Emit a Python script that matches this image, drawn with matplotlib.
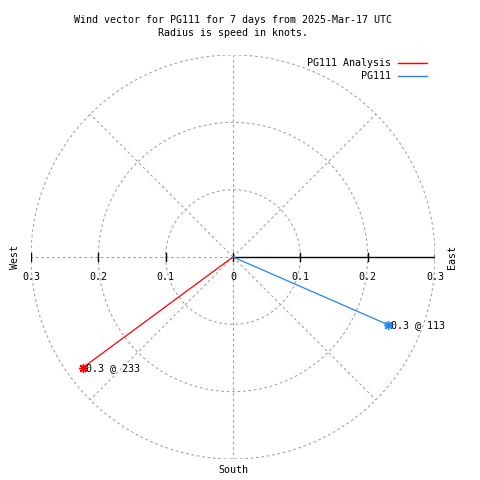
import matplotlib
matplotlib.use('Agg')
import matplotlib.pyplot as plt
from matplotlib.lines import Line2D
import numpy as np

# wind vectors: speed (knots) and direction (deg, clockwise from north)
series = ['PG111 Analysis', 'PG111']
speeds = [0.277, 0.251]
directions = [233.6, 113.6]
colors = ['#ff0000', '#1e88f0']
rings = [0.1, 0.2, 0.3]
tick_vals = [-0.3, -0.2, -0.1, 0.0, 0.1, 0.2, 0.3]
tick_labels = ['0.3', '0.2', '0.1', '0', '0.1', '0.2', '0.3']

plt.rcParams['font.family'] = 'DejaVu Sans Mono'
fs = 7.2
grid_kw = dict(color='#a0a0a0', lw=0.75, ls=(0, (2.6, 2.6)))

fig = plt.figure(figsize=(4.8, 4.8), dpi=100)
ax = fig.add_axes([31/480, 21/480, 404/480, 404/480])
ax.set_xlim(-0.3, 0.3)
ax.set_ylim(-0.3, 0.3)
ax.set_aspect('equal')
ax.axis('off')

# grid circles and spokes
t = np.linspace(0, 2*np.pi, 400)
for r in rings:
    ax.plot(r*np.cos(t), r*np.sin(t), **grid_kw)
for a in np.arange(0, 360, 45):
    if a == 90:
        continue
    rad = np.deg2rad(a)
    ax.plot([0, 0.3*np.sin(rad)], [0, 0.3*np.cos(rad)], **grid_kw)

# x axis on the right half
ax.plot([0, 0.3], [0, 0], color='black', lw=1.0)
for v, lab in zip(tick_vals, tick_labels):
    ax.plot([v, v], [-0.006, 0.006], color='black', lw=1.0)
    ax.text(v, -0.03, lab, ha='center', va='center', fontsize=fs)

# vectors
for name, s, d, c in zip(series, speeds, directions, colors):
    rad = np.deg2rad(d)
    x, y = s*np.sin(rad), s*np.cos(rad)
    ax.plot([0, x], [0, y], color=c, lw=0.9)
    ax.plot(x, y, marker=(8, 2, 0), ms=6.5, color=c, mew=1.0)
    ax.text(x + 0.004, y, f'{s:.1f} @ {int(d)}', ha='left', va='center', fontsize=fs)

# legend (top right, text then line sample)
for i, (name, c) in enumerate(zip(series, colors)):
    yy = 1 - (63 + 13*i)/480
    fig.text(391/480, yy, name, ha='right', va='center', fontsize=fs)
    fig.add_artist(Line2D([398/480, 427/480], [yy, yy], color=c, lw=1.0,
                          transform=fig.transFigure))

fig.text(233/480, 1 - 20/480, 'Wind vector for PG111 for 7 days from 2025-Mar-17 UTC',
         ha='center', va='center', fontsize=fs)
fig.text(233/480, 1 - 33/480, 'Radius is speed in knots.', ha='center', va='center', fontsize=fs)
fig.text(15/480, 1 - 257/480, 'West', rotation=90, ha='center', va='center', fontsize=fs)
fig.text(452/480, 1 - 257/480, 'East', rotation=90, ha='center', va='center', fontsize=fs)
fig.text(233/480, 1 - 470/480, 'South', ha='center', va='center', fontsize=fs)

fig.savefig('out.png', dpi=100)
